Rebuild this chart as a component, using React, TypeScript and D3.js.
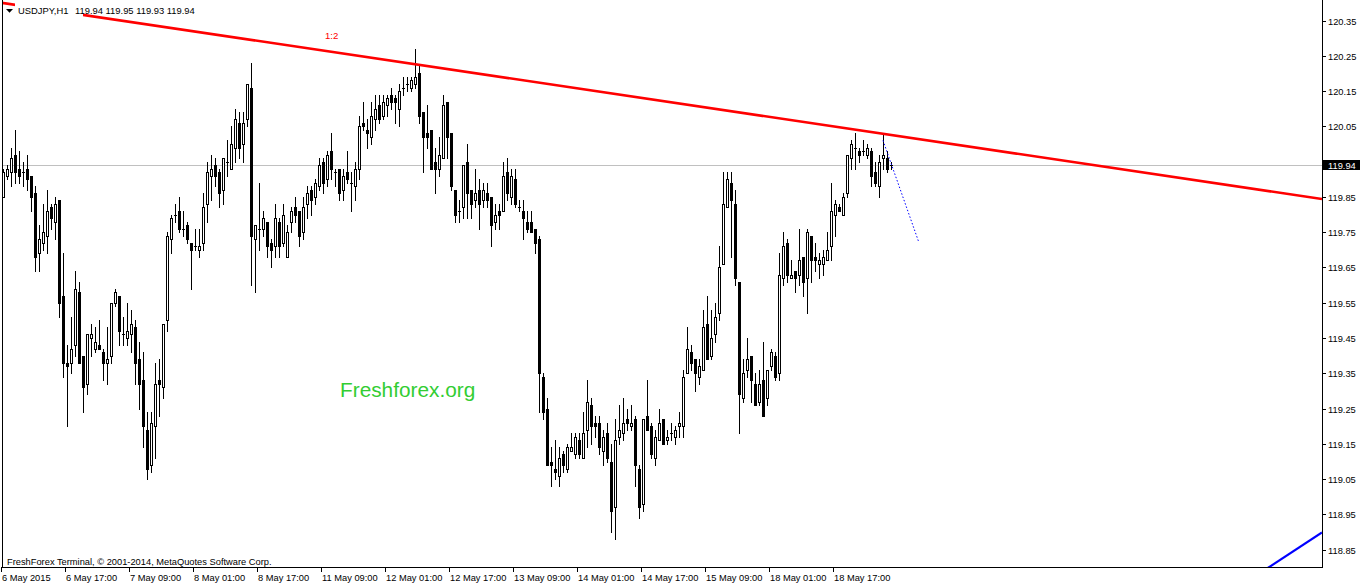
import React from "react";
import * as d3 from "d3";

// USDJPY H1 candles (bar 0 = 6 May 2015 01:00)
const open = [
  119.85,119.91,119.92,119.97,119.93,119.92,119.93,119.91,119.86,119.69,
  119.72,119.74,119.82,119.78,119.84,119.57,119.38,119.38,119.43,119.58,
  119.40,119.32,119.45,119.42,119.43,119.41,119.38,119.40,119.55,119.57,
  119.46,119.45,119.46,119.48,119.39,119.33,119.19,119.09,119.20,119.33,
  119.31,119.50,119.73,119.80,119.81,119.76,119.77,119.72,119.71,119.70,
  119.72,119.83,119.91,119.94,119.92,119.87,119.95,119.93,119.99,120.06,
  120.00,120.07,120.16,119.73,119.76,119.76,119.78,119.72,119.71,119.78,
  119.72,119.68,119.78,119.82,119.81,119.75,119.83,119.87,119.85,119.88,
  119.95,119.90,119.98,119.92,119.93,119.87,119.92,119.89,119.88,119.93,
  120.06,120.04,120.02,120.07,120.11,120.08,120.11,120.14,120.13,120.10,
  120.16,120.17,120.16,120.17,120.20,120.09,120.03,120.04,119.95,119.93,
  119.96,120.12,120.03,119.87,119.81,119.82,119.95,119.87,119.84,119.87,
  119.84,119.86,119.85,119.78,119.81,119.81,119.92,119.85,119.90,119.82,
  119.81,119.78,119.78,119.76,119.73,119.34,119.25,119.10,119.08,119.06,
  119.12,119.08,119.13,119.12,119.16,119.11,119.19,119.26,119.21,119.21,
  119.13,119.18,119.10,118.97,119.17,119.18,119.22,119.20,119.22,119.08,
  118.98,119.23,119.20,119.11,119.16,119.22,119.16,119.18,119.17,119.20,
  119.20,119.35,119.41,119.39,119.34,119.36,119.49,119.40,119.46,119.52,
  119.66,119.82,119.89,119.83,119.61,119.28,119.36,119.40,119.32,119.27,
  119.33,119.28,119.37,119.40,119.35,119.62,119.72,119.62,119.64,119.63,
  119.68,119.62,119.74,119.68,119.66,119.66,119.67,119.71,119.80,119.82,
  119.80,119.86,119.96,119.99,119.98,119.98,119.97,119.98,119.92,119.88,
  119.96,119.96,119.94
];
const high = [
  119.93,119.94,119.99,120.04,119.98,119.95,119.97,119.91,119.88,119.77,
  119.83,119.87,119.83,119.85,119.84,119.69,119.43,119.51,119.64,119.61,
  119.40,119.46,119.49,119.48,119.50,119.42,119.48,119.55,119.59,119.57,
  119.51,119.55,119.53,119.50,119.44,119.41,119.24,119.24,119.38,119.39,
  119.49,119.75,119.80,119.83,119.85,119.81,119.78,119.72,119.76,119.76,
  119.86,119.95,119.97,119.96,119.93,119.96,120.01,120.05,120.10,120.09,
  120.09,120.17,120.23,119.77,119.89,119.81,119.78,119.73,119.83,119.79,
  119.83,119.77,119.82,119.85,119.81,119.85,119.88,119.88,119.90,119.96,
  119.96,119.98,120.03,119.93,119.93,119.93,119.98,119.92,119.95,120.08,
  120.12,120.07,120.12,120.14,120.14,120.14,120.14,120.16,120.14,120.17,
  120.19,120.19,120.19,120.27,120.22,120.09,120.11,120.04,119.99,120.02,
  120.14,120.12,120.03,119.87,119.84,119.94,120.00,119.87,119.93,119.90,
  119.89,119.89,119.85,119.83,119.83,119.95,119.96,119.93,119.93,119.84,
  119.84,119.81,119.81,119.76,119.74,119.35,119.28,119.14,119.16,119.14,
  119.13,119.15,119.18,119.18,119.18,119.24,119.33,119.28,119.23,119.23,
  119.19,119.21,119.15,119.22,119.26,119.28,119.25,119.26,119.23,119.09,
  119.22,119.33,119.21,119.19,119.25,119.22,119.19,119.21,119.20,119.24,
  119.36,119.48,119.43,119.39,119.39,119.53,119.57,119.53,119.55,119.71,
  119.92,119.92,119.92,119.87,119.61,119.39,119.45,119.40,119.35,119.36,
  119.44,119.36,119.42,119.41,119.69,119.75,119.73,119.67,119.64,119.76,
  119.68,119.76,119.74,119.72,119.69,119.70,119.75,119.89,119.84,119.83,
  119.86,119.97,120.01,120.03,119.99,120.01,120.00,119.99,119.95,119.97,
  120.03,119.98,119.95
];
const low = [
  119.85,119.90,119.88,119.89,119.89,119.88,119.87,119.81,119.64,119.64,
  119.70,119.69,119.76,119.73,119.51,119.34,119.20,119.35,119.40,119.38,
  119.24,119.29,119.40,119.41,119.42,119.33,119.32,119.38,119.54,119.43,
  119.43,119.43,119.41,119.32,119.25,119.14,119.05,119.07,119.11,119.23,
  119.28,119.47,119.69,119.78,119.75,119.74,119.72,119.59,119.70,119.68,
  119.70,119.78,119.84,119.88,119.82,119.83,119.91,119.93,119.95,119.96,
  119.95,120.05,119.60,119.58,119.70,119.74,119.68,119.65,119.68,119.68,
  119.71,119.68,119.75,119.78,119.71,119.73,119.79,119.80,119.83,119.87,
  119.86,119.88,119.90,119.88,119.84,119.84,119.89,119.81,119.84,119.90,
  120.04,119.99,120.00,120.04,120.06,120.07,120.08,120.10,120.06,120.05,
  120.14,120.15,120.15,120.16,120.06,119.92,119.99,119.93,119.86,119.91,
  119.96,119.96,119.87,119.78,119.78,119.79,119.79,119.79,119.82,119.76,
  119.82,119.82,119.71,119.76,119.76,119.81,119.84,119.83,119.82,119.81,
  119.73,119.75,119.75,119.69,119.24,119.22,119.09,119.03,119.05,119.03,
  119.07,119.07,119.13,119.11,119.11,119.11,119.14,119.15,119.17,119.12,
  119.09,119.10,118.90,118.88,119.15,119.16,119.19,119.19,119.03,118.94,
  118.96,119.19,119.11,119.09,119.16,119.15,119.15,119.16,119.15,119.17,
  119.17,119.35,119.36,119.30,119.32,119.36,119.39,119.39,119.44,119.50,
  119.66,119.82,119.68,119.60,119.18,119.27,119.34,119.27,119.26,119.26,
  119.23,119.26,119.36,119.33,119.33,119.60,119.61,119.62,119.58,119.60,
  119.57,119.52,119.61,119.64,119.62,119.63,119.67,119.67,119.74,119.81,
  119.80,119.85,119.93,119.93,119.95,119.97,119.96,119.88,119.88,119.85,
  119.93,119.92,119.93
];
const close = [
  119.92,119.93,119.96,119.92,119.91,119.92,119.90,119.85,119.68,119.73,
  119.75,119.81,119.79,119.83,119.55,119.38,119.37,119.42,119.59,119.38,
  119.31,119.46,119.46,119.44,119.42,119.38,119.39,119.55,119.58,119.47,
  119.46,119.47,119.49,119.38,119.32,119.20,119.08,119.21,119.32,119.32,
  119.49,119.74,119.79,119.80,119.76,119.76,119.73,119.70,119.71,119.71,
  119.82,119.92,119.93,119.91,119.86,119.96,119.95,120.00,120.07,119.99,
  120.06,120.17,119.74,119.77,119.76,119.79,119.71,119.70,119.79,119.71,
  119.80,119.75,119.81,119.80,119.74,119.82,119.86,119.84,119.89,119.94,
  119.89,119.97,119.93,119.92,119.86,119.91,119.90,119.89,119.93,120.05,
  120.05,120.03,120.08,120.10,120.07,120.12,120.13,120.12,120.12,120.15,
  120.16,120.17,120.18,120.19,120.08,120.02,120.02,119.93,119.93,119.97,
  120.11,120.02,119.88,119.80,119.81,119.94,119.86,119.83,119.86,119.83,
  119.87,119.84,119.77,119.80,119.80,119.91,119.86,119.91,119.83,119.82,
  119.79,119.76,119.75,119.72,119.35,119.24,119.09,119.09,119.07,119.11,
  119.09,119.14,119.14,119.17,119.12,119.18,119.27,119.20,119.20,119.14,
  119.17,119.11,118.96,119.16,119.19,119.21,119.21,119.21,119.09,118.97,
  119.22,119.19,119.12,119.17,119.21,119.15,119.17,119.18,119.19,119.21,
  119.34,119.42,119.38,119.35,119.37,119.48,119.39,119.45,119.51,119.65,
  119.83,119.90,119.84,119.62,119.29,119.35,119.39,119.33,119.26,119.32,
  119.23,119.36,119.41,119.34,119.63,119.71,119.63,119.63,119.62,119.67,
  119.61,119.75,119.67,119.67,119.67,119.68,119.70,119.81,119.83,119.81,
  119.85,119.97,120.00,119.99,119.97,119.98,119.99,119.91,119.89,119.95,
  119.97,119.93,119.94
];

const xTickLabels = [
  "6 May 2015", "6 May 17:00", "7 May 09:00", "8 May 01:00", "8 May 17:00",
  "11 May 09:00", "12 May 01:00", "12 May 17:00", "13 May 09:00", "14 May 01:00",
  "14 May 17:00", "15 May 09:00", "18 May 01:00", "18 May 17:00"
];
const barsPerLabel = 16;
const yTickLabels = [
  "120.35", "120.25", "120.15", "120.05", "119.95", "119.85", "119.75", "119.65",
  "119.55", "119.45", "119.35", "119.25", "119.15", "119.05", "118.95", "118.85"
];
const symbolName = "USDJPY,H1";
const lastQuote = ["119.94", "119.95", "119.93", "119.94"];
const bidPrice = 119.94;
const resistanceLine = [{ bar: 20, price: 120.366 }, { bar: 220, price: 120.029 }];
const projectionLine = [{ bar: 220, price: 120.01 }, { bar: 229, price: 119.72 }];
const supportLine = [{ bar: 316.3, price: 118.799 }, { bar: 329.5, price: 118.897 }];

const FONT = "'Liberation Sans', Arial, sans-serif";

export default function App() {
  const W = 1362, H = 586;
  const plotLeft = 2, plotRight = 1322, plotBottom = 567;
  const n = open.length;
  const x = d3.scaleLinear().domain([0, n - 1]).range([3, 3 + 4 * (n - 1)]);
  const y = d3.scaleLinear().domain([118.85, 120.35]).range([549.7, 20.5]);
  const py = (p: number) => Math.round(y(p));

  const extendLine = (pts: { bar: number; price: number }[], b0: number, b1: number) => {
    const [a, b] = pts;
    const slope = (b.price - a.price) / (b.bar - a.bar);
    const f = (bar: number) => a.price + slope * (bar - a.bar);
    return [[x(b0), y(f(b0))], [x(b1), y(f(b1))]] as [number, number][];
  };
  const lineGen = d3.line();
  const leftBar = x.invert(0);
  const rightBar = x.invert(plotRight);
  const resPts = extendLine(resistanceLine, leftBar, rightBar);
  const supPts = extendLine(supportLine, supportLine[0].bar - 2, rightBar);
  const projPts = projectionLine.map(d => [x(d.bar), y(d.price)] as [number, number]);

  const bidY = py(bidPrice) + 0.5;

  return (
    <svg width={W} height={H} style={{ position: "absolute", left: 0, top: 0, display: "block", background: "#fff" }}>
      <defs>
        <clipPath id="plotClip">
          <rect x={plotLeft} y={0} width={plotRight - plotLeft} height={plotBottom} />
        </clipPath>
      </defs>
      <rect x={0} y={0} width={W} height={H} fill="#fff" />

      {/* bid line */}
      <line x1={plotLeft} x2={plotRight} y1={bidY} y2={bidY} stroke="#c0c0c0" strokeWidth={1} />

      {/* watermark */}
      <text x={340} y={397} fontFamily={FONT} fontSize={20.8} fill="#32cd32">Freshforex.org</text>

      {/* candles */}
      <g clipPath="url(#plotClip)">
        {open.map((o, i) => {
          const c = Math.round(x(i));
          const yo = py(o), yc = py(close[i]), yh = py(high[i]), yl = py(low[i]);
          const top = Math.min(yo, yc), bot = Math.max(yo, yc);
          const bull = close[i] > o;
          return (
            <g key={i}>
              <rect x={c} y={yh} width={1} height={yl - yh + 1} fill="#000" />
              {top === bot ? (
                <rect x={c - 1} y={top} width={3} height={1} fill="#000" />
              ) : bull ? (
                <rect x={c - 0.5} y={top + 0.5} width={2} height={bot - top} fill="#fff" stroke="#000" strokeWidth={1} />
              ) : (
                <rect x={c - 1} y={top} width={3} height={bot - top + 1} fill="#000" />
              )}
            </g>
          );
        })}
      </g>

      {/* trend lines */}
      <g clipPath="url(#plotClip)">
        <path d={lineGen(resPts) || ""} stroke="#ff0000" strokeWidth={2.6} fill="none" />
        <path d={lineGen(projPts) || ""} stroke="#0000ff" strokeWidth={1} strokeDasharray="1.5,2" fill="none" />
        <path d={lineGen(supPts) || ""} stroke="#0000ff" strokeWidth={2.2} fill="none" />
      </g>
      <text x={325} y={39} fontFamily={FONT} fontSize={9.6} fill="#ff0000">1:2</text>

      {/* header */}
      <rect x={15} y={0} width={68} height={19} fill="#fff" />
      <polygon points="6,9 13,9 9.5,12.7" fill="#000" />
      <text x={18} y={14} fontFamily={FONT} fontSize={9.4} fill="#000">{symbolName}</text>
      <text x={75} y={14} fontFamily={FONT} fontSize={9.4} fill="#000">{lastQuote.join(" ")}</text>

      {/* frame */}
      <line x1={plotLeft + 0.5} x2={plotLeft + 0.5} y1={0} y2={plotBottom + 1} stroke="#000" />
      <line x1={plotRight + 0.5} x2={plotRight + 0.5} y1={0} y2={plotBottom + 1} stroke="#000" />
      <line x1={plotLeft} x2={plotRight + 1} y1={plotBottom + 0.5} y2={plotBottom + 0.5} stroke="#000" />

      {/* y axis */}
      {yTickLabels.map(t => {
        const ty = py(+t);
        return (
          <g key={t}>
            <line x1={plotRight + 1} x2={plotRight + 4} y1={ty + 0.5} y2={ty + 0.5} stroke="#000" />
            <text x={1328} y={ty + 3.8} fontFamily={FONT} fontSize={9.3} fill="#000">{t}</text>
          </g>
        );
      })}
      <rect x={1323} y={bidY - 5.5} width={37} height={10} fill="#000" />
      <text x={1328} y={bidY + 3.3} fontFamily={FONT} fontSize={9.3} fill="#fff">{lastQuote[3]}</text>

      {/* x axis */}
      {xTickLabels.map((t, k) => {
        const tx = Math.round(x(k * barsPerLabel)) - 2;
        return (
          <g key={t}>
            <line x1={tx + 0.5} x2={tx + 0.5} y1={plotBottom} y2={plotBottom + 5} stroke="#000" />
            <text x={tx + 1} y={581} fontFamily={FONT} fontSize={9.3} fill="#000">{t}</text>
          </g>
        );
      })}

      <text x={7} y={565} fontFamily={FONT} fontSize={9.3} fill="#000">FreshForex Terminal, © 2001-2014, MetaQuotes Software Corp.</text>
    </svg>
  );
}
